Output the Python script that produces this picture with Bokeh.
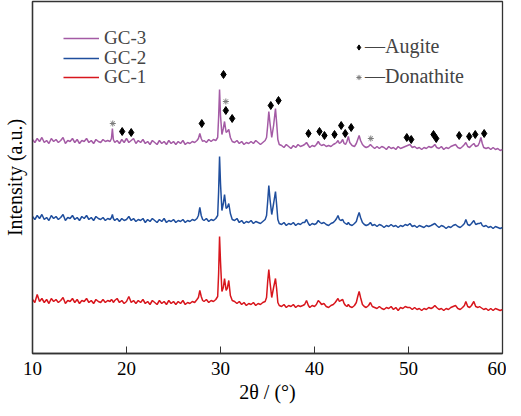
from bokeh.plotting import figure
from bokeh.models import Range1d, FixedTicker, Legend, LegendItem, ColumnDataSource
from bokeh.embed import file_html
from bokeh.resources import INLINE

# ---------------- data ----------------
two_theta = [
    10.0, 10.25, 10.5, 10.75, 11.0, 11.25, 11.5, 11.75, 12.0, 12.25, 12.5, 12.75, 13.0, 13.25, 13.5, 13.75,
    14.0, 14.25, 14.5, 14.75, 15.0, 15.25, 15.5, 15.75, 16.0, 16.25, 16.5, 16.75, 17.0, 17.25, 17.5, 17.75, 18.0,
    18.25, 18.4, 18.5, 18.6, 18.75,
    19.0, 19.25, 19.5, 19.75, 20.0, 20.25, 20.5, 20.75, 21.0, 21.25, 21.5, 21.75, 22.0, 22.25, 22.5, 22.75,
    23.0, 23.25, 23.5, 23.75, 24.0, 24.25, 24.5, 24.75, 25.0, 25.25, 25.5, 25.75, 26.0, 26.25, 26.5, 26.75,
    27.0, 27.25, 27.5,
    27.65, 27.8, 27.95, 28.1, 28.25, 28.5, 28.75, 29.0, 29.25, 29.5, 29.7, 29.8, 29.9, 30.0, 30.15, 30.3,
    30.43, 30.6, 30.72, 30.88, 31.05, 31.25,
    31.5, 31.75, 32.0, 32.25, 32.5, 32.75, 33.0, 33.25, 33.5, 33.75, 34.0, 34.25, 34.5, 34.75,
    34.9, 35.02, 35.14, 35.27, 35.45, 35.65, 35.85, 35.97, 36.1, 36.25,
    36.5, 36.75, 37.0, 37.25, 37.5, 37.75, 38.0, 38.25, 38.5, 38.75,
    38.95, 39.15, 39.35, 39.5, 39.75, 40.0, 40.2, 40.4, 40.6, 40.75, 41.0, 41.25, 41.5, 41.75, 42.0, 42.2,
    42.35, 42.5, 42.65, 42.8, 43.0, 43.15, 43.3, 43.45, 43.6, 43.75, 44.0, 44.25, 44.45, 44.6, 44.75, 44.9,
    45.1, 45.3, 45.5, 45.75, 45.95, 46.15, 46.4,
    46.65, 46.9, 47.15, 47.4, 47.65, 47.9, 48.15, 48.4, 48.65, 48.9, 49.15, 49.4, 49.65, 49.9,
    50.15, 50.4, 50.65, 50.9, 51.15, 51.4, 51.65, 51.9, 52.15, 52.4,
    52.6, 52.8, 53.0,
    53.25, 53.5, 53.75, 54.0, 54.25, 54.5, 54.75, 55.0,
    55.25, 55.5, 55.75, 55.95, 56.1, 56.3, 56.5, 56.7, 56.95, 57.15, 57.4, 57.55, 57.7, 57.85, 58.0,
    58.25, 58.5, 58.75, 59.0, 59.25, 59.5, 59.75, 60.0,
]

gc3 = [
    214, 211, 215, 212, 216, 211, 213, 210, 215, 212, 214, 211, 213, 216, 210, 213,
    212, 215, 211, 214, 210, 213, 212, 215, 211, 213, 210, 214, 212, 211, 214, 212, 213,
    212, 215, 225, 214, 211,
    213, 210, 214, 211, 215, 211, 213, 215, 210, 213, 211, 214, 210, 212, 209, 213,
    211, 209, 213, 210, 212, 209, 213, 210, 212, 209, 212, 210, 213, 209, 211, 210,
    212, 211, 213,
    215, 220, 215, 212, 213, 211, 214, 212, 214, 213, 216, 236, 264, 238, 219, 225,
    232, 221, 222, 224, 216, 212,
    211, 213, 210, 212, 209, 211, 210, 212, 210, 213, 211, 209, 211, 213,
    216, 228, 242, 230, 216, 228, 245, 231, 214, 209,
    208, 206, 209, 207, 205, 208, 206, 209, 207, 208,
    209, 211, 208, 206, 208, 207, 209, 212, 209, 208, 209, 207, 208, 207, 209, 210,
    211, 213, 210, 211, 214, 210, 209, 212, 217, 211, 208, 207, 210, 214, 218, 213,
    209, 207, 206, 207, 209, 207, 205,
    207, 205, 207, 206, 204, 207, 205, 206, 204, 207, 205, 206, 207, 208,
    209, 206, 207, 205, 206, 204, 206, 205, 207, 206,
    207, 209, 206,
    205, 207, 204, 206, 205, 207, 208, 209,
    206, 205, 207, 209, 211, 207, 206, 208, 210, 207, 208, 211, 216, 210, 206,
    205, 206, 204, 206, 204, 205, 203, 204,
]

gc2 = [
    137, 134, 138, 135, 139, 134, 136, 133, 138, 135, 137, 134, 136, 139, 133, 136,
    135, 138, 134, 136, 133, 137, 135, 138, 134, 136, 133, 137, 135, 134, 136, 133, 135,
    134, 136, 139, 135, 133,
    135, 132, 135, 133, 134, 137, 133, 135, 132, 134, 133, 135, 131, 134, 132, 135,
    133, 131, 134, 132, 135, 131, 133, 132, 134, 131, 133, 132, 134, 131, 133, 132,
    134, 133, 135,
    138, 146, 138, 134, 133, 135, 132, 134, 133, 135, 138, 162, 197, 170, 143, 150,
    159, 145, 146, 150, 140, 134,
    133, 135, 131, 133, 130, 132, 131, 133, 130, 132, 131, 130, 132, 134,
    138, 152, 168, 154, 139, 150, 162, 149, 134, 130,
    129, 131, 128, 130, 129, 131, 128, 130, 129, 131,
    131, 134, 130, 128, 130, 129, 130, 133, 131, 130, 131, 129, 128, 130, 131, 133,
    135, 138, 134, 133, 134, 131, 130, 129, 131, 129, 128, 130, 132, 137, 141, 136,
    131, 129, 128, 129, 131, 128, 129,
    127, 129, 128, 126, 128, 127, 129, 127, 128, 126, 128, 127, 129, 128,
    130, 127, 128, 126, 128, 127, 126, 128, 127, 128,
    129, 130, 128,
    126, 128, 127, 125, 127, 126, 128, 129,
    127, 126, 128, 130, 134, 129, 128, 130, 133, 129, 130, 130, 131, 128, 127,
    128, 126, 127, 125, 127, 126, 125, 126,
]

gc1 = [
    54, 51, 59, 52, 55, 51, 54, 50, 55, 52, 54, 51, 53, 56, 50, 53,
    52, 55, 51, 54, 50, 53, 52, 55, 51, 53, 50, 54, 52, 51, 54, 51, 53,
    52, 54, 53, 51, 53,
    55, 51, 53, 50, 52, 57, 51, 53, 50, 53, 51, 54, 50, 52, 49, 53,
    51, 49, 53, 50, 52, 49, 53, 50, 52, 49, 52, 50, 53, 49, 51, 50,
    52, 51, 54,
    56, 63, 57, 53, 52, 54, 51, 53, 52, 54, 57, 80, 117, 92, 62, 66,
    75, 63, 65, 73, 58, 53,
    52, 50, 52, 49, 51, 48, 50, 49, 51, 48, 50, 49, 51, 52,
    56, 72, 84, 71, 56, 66, 75, 65, 51, 48,
    47, 49, 46, 48, 47, 49, 46, 48, 47, 48,
    49, 53, 48, 46, 48, 47, 49, 53, 51, 49, 50, 47, 46, 48, 49, 51,
    53, 55, 52, 53, 54, 50, 48, 47, 49, 47, 46, 48, 51, 57, 62, 56,
    49, 47, 46, 48, 51, 47, 46,
    45, 47, 45, 44, 46, 45, 47, 44, 46, 43, 46, 45, 47, 46,
    46, 44, 46, 44, 45, 43, 45, 44, 46, 45,
    46, 48, 46,
    44, 45, 43, 45, 44, 46, 47, 48,
    45, 44, 46, 48, 52, 47, 46, 48, 52, 47, 46, 47, 46, 45, 44,
    45, 43, 45, 43, 45, 44, 43, 44,
]

series_names = ["GC-3", "GC-2", "GC-1"]
series_colors = ["#a45ba5", "#1f4e9d", "#d8161d"]

# phase markers (2theta, height) placed above the GC-3 pattern
augite_x = [19.54, 20.50, 28.01, 30.32, 30.57, 31.24, 35.35, 36.17, 39.36, 40.53, 41.06, 42.13,
            42.84, 43.27, 43.90, 49.82, 50.29, 52.66, 52.95, 55.39, 56.46, 57.10, 58.05]
augite_y = [222, 221, 230, 279, 243, 235, 248, 253, 220, 222, 218, 219,
            228, 220, 226, 216, 214, 219, 215, 218, 217, 219, 220]
donathite_x = [18.54, 30.57, 45.99]
donathite_y = [230, 252, 215]

x_ticks = [10, 20, 30, 40, 50, 60]

assert len(two_theta) == len(gc1) == len(gc2) == len(gc3)

FONT = "Liberation Serif"
AXIS_COLOR = "#333333"

p = figure(frame_width=470, frame_height=352, output_backend="svg", toolbar_location=None,
           x_range=Range1d(10, 60), y_range=Range1d(0, 352),
           min_border_left=31, min_border_right=4, min_border_top=1, min_border_bottom=47)

p.background_fill_color = "white"
p.border_fill_color = "white"
p.outline_line_color = AXIS_COLOR
p.outline_line_width = 1.3
p.xgrid.visible = False
p.ygrid.visible = False

src = ColumnDataSource(dict(x=two_theta, gc1=gc1, gc2=gc2, gc3=gc3))
renderers = {}
for name, col, color in zip(series_names, ["gc3", "gc2", "gc1"], series_colors):
    renderers[name] = p.line("x", col, source=src, line_color=color, line_width=1.5)

r_aug = p.scatter(augite_x, augite_y, marker="diamond", size=8,
                  fill_color="black", line_color="black")
r_don = p.scatter(donathite_x, donathite_y, marker="asterisk", size=6,
                  line_color="#7a7a7a", line_width=1)

# axes
p.xaxis.ticker = FixedTicker(ticks=x_ticks)
p.xaxis.minor_tick_line_color = None
p.xaxis.major_tick_in = 7
p.xaxis.major_tick_out = 0
p.xaxis.major_tick_line_color = AXIS_COLOR
p.xaxis.axis_line_color = AXIS_COLOR
p.xaxis.axis_line_width = 1.3
p.xaxis.major_label_text_font = FONT
p.xaxis.major_label_text_font_size = "19px"
p.xaxis.major_label_text_color = "black"
p.xaxis.major_label_standoff = 8
p.xaxis.axis_label = "2θ / (°)"
p.xaxis.axis_label_text_font = FONT
p.xaxis.axis_label_text_font_size = "20px"
p.xaxis.axis_label_text_font_style = "normal"
p.xaxis.axis_label_text_color = "black"
p.xaxis.axis_label_standoff = 3

p.yaxis.ticker = FixedTicker(ticks=[])
p.yaxis.minor_tick_line_color = None
p.yaxis.major_tick_in = 0
p.yaxis.major_tick_out = 0
p.yaxis.major_label_standoff = 0
p.yaxis.axis_line_color = AXIS_COLOR
p.yaxis.axis_line_width = 1.3
p.yaxis.axis_label = "Intensity (a.u.)"
p.yaxis.axis_label_text_font = FONT
p.yaxis.axis_label_text_font_size = "20px"
p.yaxis.axis_label_text_font_style = "normal"
p.yaxis.axis_label_text_color = "black"
p.yaxis.axis_label_standoff = 7

# one single-row legend per sample so rows sit 19-20 px apart
legend_style = dict(padding=0, margin=0, glyph_width=36, glyph_height=18, label_height=18,
                    label_standoff=5, label_text_font=FONT, label_text_font_size="19px",
                    background_fill_alpha=0, border_line_alpha=0)
for name, ly in zip(series_names, [304, 284, 265]):
    p.add_layout(Legend(items=[LegendItem(label=name, renderers=[renderers[name]])],
                        location=(31, ly), **legend_style))

leg2 = Legend(items=[LegendItem(label="—Augite", renderers=[r_aug]),
                     LegendItem(label="—Donathite", renderers=[r_don])],
              location=(320, 265), padding=0, margin=0, spacing=7,
              glyph_width=13, glyph_height=20, label_height=20, label_standoff=0,
              label_text_font=FONT, label_text_font_size="20px",
              background_fill_alpha=0, border_line_alpha=0)
p.add_layout(leg2)

open("out.html", "w").write(file_html(p, INLINE))
